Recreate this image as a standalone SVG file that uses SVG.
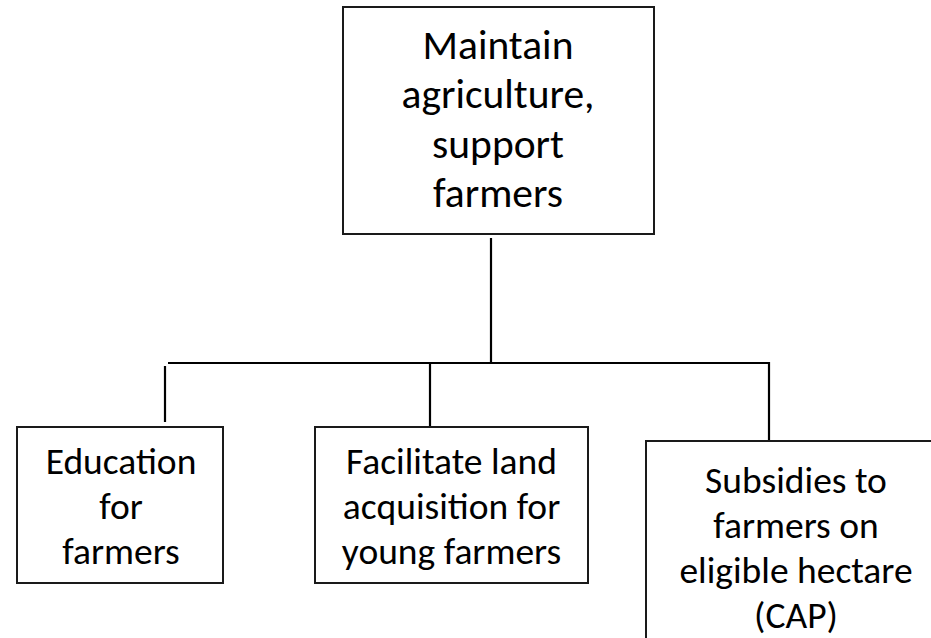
<svg xmlns="http://www.w3.org/2000/svg" width="931" height="638" viewBox="0 0 931 638">
<style>
.box{fill:#fff;stroke:#1a1a1a;stroke-width:2}
.ln{stroke:#000;stroke-width:2.2;fill:none}
.t{font-family:Carlito,Calibri,Lato,"Open Sans",sans-serif;fill:#000;text-anchor:middle}
.big{font-size:41.5px}
.sm{font-size:37.5px}
</style>
<rect width="931" height="638" fill="#fff"/>
<g id="connectors">
<line class="ln" x1="491" y1="238" x2="491" y2="363"/>
<line class="ln" x1="168" y1="363" x2="770" y2="363"/>
<line class="ln" x1="165" y1="366" x2="165" y2="422"/>
<line class="ln" x1="430" y1="363" x2="430" y2="427"/>
<line class="ln" x1="769" y1="362" x2="769" y2="440"/>
</g>
<g id="root">
<rect class="box" x="343" y="7" width="311" height="227"/>
<text class="t big" x="498" y="59">Maintain</text>
<text class="t big" x="498" y="108">agriculture,</text>
<text class="t big" x="498" y="158">support</text>
<text class="t big" x="498" y="207">farmers</text>
</g>
<g id="education">
<rect class="box" x="17" y="427" width="206" height="156"/>
<text class="t sm" x="121" y="474">Education</text>
<text class="t sm" x="121" y="519">for</text>
<text class="t sm" x="121" y="564">farmers</text>
</g>
<g id="land">
<rect class="box" x="315" y="427" width="273" height="156"/>
<text class="t sm" x="451.5" y="474">Facilitate land</text>
<text class="t sm" x="451.5" y="519">acquisition for</text>
<text class="t sm" x="451.5" y="564">young farmers</text>
</g>
<g id="subsidies">
<rect class="box" x="646" y="441" width="300" height="220"/>
<text class="t sm" x="796" y="493">Subsidies to</text>
<text class="t sm" x="796" y="538">farmers on</text>
<text class="t sm" x="796" y="583">eligible hectare</text>
<text class="t sm" x="796" y="628">(CAP)</text>
</g>
</svg>
